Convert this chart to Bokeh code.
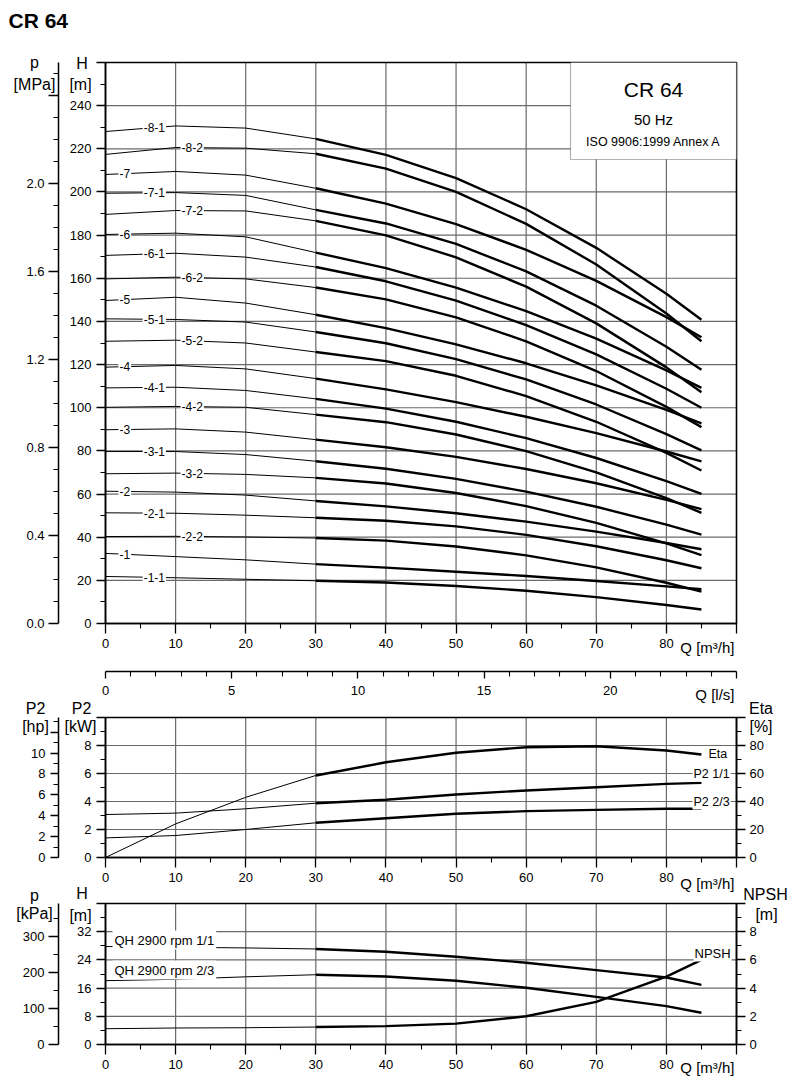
import numpy as np
from bokeh.plotting import figure
from bokeh.models import (Range1d, LinearAxis, FixedTicker, Label, BoxAnnotation,
                          PrintfTickFormatter)
from bokeh.embed import file_html
from bokeh.resources import INLINE

FONT = "Liberation Sans"

# ------------------------------------------------------------------ data
Q = [0, 10, 20, 30, 40, 50, 60, 70, 80, 85]          # flow [m3/h]

CURVE_LABELS = ["-8-1", "-8-2", "-7", "-7-1", "-7-2", "-6", "-6-1", "-6-2",
                "-5", "-5-1", "-5-2", "-4", "-4-1", "-4-2", "-3", "-3-1",
                "-3-2", "-2", "-2-1", "-2-2", "-1", "-1-1"]

H_8_1 = [228.0, 230.6, 229.6, 224.6, 217.2, 206.4, 192.0, 174.1, 152.8, 140.8]
H_8_2 = [217.4, 220.6, 220.3, 217.7, 210.8, 200.0, 185.2, 166.4, 143.7, 130.8]
H_7 = [208.1, 209.5, 207.8, 201.7, 194.6, 185.1, 173.2, 158.8, 142.0, 132.7]
H_7_1 = [199.4, 199.7, 198.4, 191.7, 185.4, 175.9, 163.2, 147.3, 128.3, 117.6]
H_7_2 = [189.6, 191.4, 191.2, 186.6, 179.9, 169.7, 156.1, 139.1, 118.7, 107.2]
H_6 = [180.3, 180.9, 179.2, 171.9, 164.7, 155.7, 144.8, 132.0, 117.3, 109.2]
H_6_1 = [170.6, 171.6, 169.8, 165.2, 158.6, 149.6, 138.3, 124.7, 108.8, 100.0]
H_6_2 = [159.7, 160.5, 159.7, 155.7, 150.2, 141.9, 130.8, 117.0, 100.4, 91.0]
H_5 = [149.7, 151.2, 148.5, 143.1, 136.9, 129.4, 120.6, 110.4, 99.0, 92.8]
H_5_1 = [141.2, 140.9, 139.7, 135.1, 129.9, 122.5, 113.1, 101.5, 87.8, 80.2]
H_5_2 = [130.8, 131.3, 130.0, 125.8, 121.6, 114.8, 105.4, 93.5, 79.1, 70.9]
H_4 = [118.8, 119.6, 118.0, 113.5, 108.5, 102.6, 95.8, 88.2, 79.7, 75.1]
H_4_1 = [109.2, 109.5, 108.0, 104.1, 99.6, 93.5, 85.9, 76.7, 66.0, 60.1]
H_4_2 = [100.2, 100.6, 100.2, 96.8, 93.3, 87.6, 79.9, 70.0, 58.1, 51.3]
H_3 = [89.8, 90.2, 88.7, 85.2, 81.7, 77.2, 71.6, 65.0, 57.3, 53.0]
H_3_1 = [79.7, 79.7, 78.3, 75.2, 71.7, 67.0, 61.1, 54.1, 45.8, 41.2]
H_3_2 = [69.4, 69.7, 69.1, 67.5, 64.9, 60.5, 54.4, 46.6, 37.1, 31.7]
H_2 = [61.3, 60.9, 59.5, 56.8, 54.3, 51.1, 47.2, 42.6, 37.3, 34.4]
H_2_1 = [51.3, 51.1, 50.2, 49.0, 47.6, 45.0, 41.1, 35.8, 29.3, 25.6]
H_2_2 = [40.3, 40.4, 40.1, 39.6, 38.4, 35.7, 31.6, 26.0, 18.9, 14.8]
H_1 = [32.5, 31.0, 29.5, 27.5, 25.9, 24.0, 22.0, 19.7, 17.2, 15.9]
H_1_1 = [21.8, 21.2, 20.5, 19.8, 19.0, 17.4, 15.2, 12.2, 8.6, 6.5]

CURVES = [H_8_1, H_8_2, H_7, H_7_1, H_7_2, H_6, H_6_1, H_6_2, H_5, H_5_1,
          H_5_2, H_4, H_4_1, H_4_2, H_3, H_3_1, H_3_2, H_2, H_2_1, H_2_2,
          H_1, H_1_1]

ETA = [0.0, 24.0, 43.0, 58.6, 68.0, 74.8, 78.8, 79.5, 76.4, 73.6]          # %
P2_FULL = [3.07, 3.17, 3.48, 3.88, 4.12, 4.50, 4.79, 5.02, 5.26, 5.33]     # kW
P2_TWO_THIRDS = [1.40, 1.57, 2.00, 2.48, 2.80, 3.12, 3.31, 3.40, 3.48, 3.48]

QH_FULL = [27.8, 27.6, 27.4, 27.1, 26.3, 24.9, 23.2, 21.1, 19.0, 16.9]     # m
QH_TWO_THIRDS = [18.1, 18.5, 19.2, 19.8, 19.3, 18.1, 16.1, 13.5, 10.9, 9.0]
NPSH = [1.12, 1.17, 1.19, 1.24, 1.30, 1.48, 2.00, 3.02, 4.81, 6.00]        # m

# tick sets
Q_MAX = 90
Q_TICKS = [0, 10, 20, 30, 40, 50, 60, 70, 80, 90]
Q_MINOR = [5, 15, 25, 35, 45, 55, 65, 75, 85]
LS_MAX = 25
LS_TICKS = [0, 5, 10, 15, 20, 25]
LS_MINOR = [v for v in range(1, 25) if v % 5]
H_TOP_MAX = 260
H_TOP_TICKS = list(range(0, 261, 20))
H_TOP_MINOR = list(range(10, 260, 20))
MPA_TICKS = [0.0, 0.4, 0.8, 1.2, 1.6, 2.0, 2.4]
MPA_MINOR = [0.1, 0.2, 0.3, 0.5, 0.6, 0.7, 0.9, 1.0, 1.1, 1.3, 1.4, 1.5,
             1.7, 1.8, 1.9, 2.1, 2.2, 2.3, 2.5]
KW_MAX = 10
KW_TICKS = [0, 2, 4, 6, 8, 10]
KW_MINOR = [1, 3, 5, 7, 9]
HP_TICKS = [0, 2, 4, 6, 8, 10, 12]
HP_MINOR = [1, 3, 5, 7, 9, 11, 13]
ETA_MAX = 100
ETA_TICKS = [0, 20, 40, 60, 80, 100]
ETA_MINOR = [10, 30, 50, 70, 90]
H_BOT_MAX = 40
H_BOT_TICKS = [0, 8, 16, 24, 32, 40]
H_BOT_MINOR = [4, 12, 20, 28, 36]
KPA_TICKS = [0, 100, 200, 300]
KPA_MINOR = [50, 150, 250, 350]
NPSH_MAX = 10
NPSH_TICKS = [0, 2, 4, 6, 8, 10]
NPSH_MINOR = [1, 3, 5, 7, 9]

M_PER_MPA = 101.97
KPA_PER_M = 9.80665
KW_PER_HP = 0.7457
LS_PER_M3H = 1 / 3.6

# ------------------------------------------------------------------ layout (pixels)
W, HFIG = 790, 1080
QX0, QX1 = 105, 736                  # pixel x of Q=0 and Q=90
TOP_PY = (623, 62)                   # pixel y of H=0 and H=260
MID_PY = (857, 717)                  # pixel y of 0 and 10 kW
BOT_PY = (1044, 903)                 # pixel y of 0 and 40 m
OUTER_AXIS_PX = 58
LS_AXIS_PY = 671
GRID_COLOR = "#6a6a6a"

SX = (QX1 - QX0) / Q_MAX


def y_range(v_max, py0, py1):
    s = (py0 - py1) / v_max
    return Range1d(start=-(HFIG - py0) / s, end=py0 / s)


x_rng = Range1d(start=-QX0 / SX, end=(W - QX0) / SX)
p = figure(width=W, height=HFIG, x_range=x_rng,
           y_range=y_range(H_TOP_MAX, *TOP_PY),
           x_axis_type=None, y_axis_type=None, min_border=0,
           output_backend="svg", toolbar_location=None)
p.outline_line_color = None
p.background_fill_color = "white"
p.border_fill_color = "white"
p.extra_y_ranges = {
    "mpa": y_range(H_TOP_MAX / M_PER_MPA, *TOP_PY),
    "kw": y_range(KW_MAX, *MID_PY),
    "hp": y_range(KW_MAX / KW_PER_HP, *MID_PY),
    "eta": y_range(ETA_MAX, *MID_PY),
    "h3": y_range(H_BOT_MAX, *BOT_PY),
    "kpa": y_range(H_BOT_MAX * KPA_PER_M, *BOT_PY),
    "npsh": y_range(NPSH_MAX, *BOT_PY),
}
p.extra_x_ranges = {"ls": Range1d(start=x_rng.start * LS_PER_M3H,
                                  end=x_rng.end * LS_PER_M3H)}


def rng(name):
    return p.y_range if name == "default" else p.extra_y_ranges[name]


def px_x(px):
    return (px - QX0) / SX


def px_y(py, name="default"):
    r = rng(name)
    return r.end - py * (r.end - r.start) / HFIG


q = np.array(Q, dtype=float)


# ------------------------------------------------------------------ helpers
def add_axis(side, fixed, bounds, ticks, minor, hide=(), xname="default",
             yname="default", tick_out=9, minor_out=5, standoff=5, fmt=None):
    ax = LinearAxis(fixed_location=fixed, bounds=bounds,
                    x_range_name=xname, y_range_name=yname)
    ax.ticker = FixedTicker(ticks=ticks, minor_ticks=minor)
    if hide:
        ax.major_label_overrides = {h: "" for h in hide}
    ax.major_tick_in = 0
    ax.major_tick_out = tick_out
    ax.minor_tick_in = 0
    ax.minor_tick_out = minor_out
    ax.major_label_standoff = standoff
    ax.major_label_text_font = FONT
    ax.major_label_text_font_size = "13px"
    ax.major_label_text_color = "black"
    ax.axis_line_color = "black"
    ax.axis_line_width = 1.5
    ax.major_tick_line_color = "black"
    ax.major_tick_line_width = 1.3
    ax.minor_tick_line_color = "black"
    ax.minor_tick_line_width = 1.1
    if fmt is not None:
        ax.formatter = fmt
    p.add_layout(ax, side)


def panel_grid(y_ticks, y_max, yname):
    xs = [v for v in Q_TICKS if 0 < v < Q_MAX]
    ys = [v for v in y_ticks if 0 < v < y_max]
    p.segment(x0=xs, y0=[0] * len(xs), x1=xs, y1=[y_max] * len(xs),
              line_color=GRID_COLOR, line_width=1.2, y_range_name=yname)
    p.segment(x0=[0] * len(ys), y0=ys, x1=[Q_MAX] * len(ys), y1=ys,
              line_color=GRID_COLOR, line_width=1.2, y_range_name=yname)


def panel_frame(y_max, yname):
    p.quad(left=[0], right=[Q_MAX], bottom=[0], top=[y_max], fill_color=None,
           line_color="black", line_width=1.6, y_range_name=yname)


def split_line(ys, yname="default"):
    ys = np.array(ys, dtype=float)
    thin = q <= 30
    thick = q >= 30
    p.line(q[thin], ys[thin], line_color="black", line_width=1.0,
           line_join="round", y_range_name=yname)
    p.line(q[thick], ys[thick], line_color="black", line_width=2.4,
           line_join="round", y_range_name=yname)


def text(x, y, s, size="13px", align="left", bold=False, bg=False,
         yname="default", pad=1):
    lab = Label(x=x, y=y, text=s, text_font=FONT, text_font_size=size,
                text_align=align, text_baseline="middle", text_color="black",
                y_range_name=yname)
    if bold:
        lab.text_font_style = "bold"
    if bg:
        lab.background_fill_color = "white"
        lab.background_fill_alpha = 1.0
        lab.padding = pad
    p.add_layout(lab)


def ptext(px, py, s, yname="default", **kw):
    text(px_x(px), px_y(py, yname), s, yname=yname, **kw)


# ------------------------------------------------------------------ grids
panel_grid(H_TOP_TICKS, H_TOP_MAX, "default")
panel_grid(KW_TICKS, KW_MAX, "kw")
panel_grid(H_BOT_TICKS, H_BOT_MAX, "h3")

# ------------------------------------------------------------------ curves
for hs in CURVES:
    split_line(hs)
split_line(ETA, "eta")
split_line(P2_FULL, "kw")
split_line(P2_TWO_THIRDS, "kw")
split_line(QH_FULL, "h3")
split_line(QH_TWO_THIRDS, "h3")
split_line(NPSH, "npsh")

panel_frame(H_TOP_MAX, "default")
panel_frame(KW_MAX, "kw")
panel_frame(H_BOT_MAX, "h3")

# ------------------------------------------------------------------ axes
# top panel
add_axis("left", 0, (0, H_TOP_MAX), H_TOP_TICKS, H_TOP_MINOR, hide=(260,))
add_axis("left", px_x(OUTER_AXIS_PX), (0, H_TOP_MAX / M_PER_MPA), MPA_TICKS,
         MPA_MINOR, hide=(2.4,), yname="mpa", tick_out=10, standoff=4,
         fmt=PrintfTickFormatter(format="%.1f"))
add_axis("below", 0, (0, Q_MAX), Q_TICKS, Q_MINOR, hide=(90,),
         tick_out=10, standoff=5)
add_axis("below", px_y(LS_AXIS_PY), (0, LS_MAX), LS_TICKS, LS_MINOR,
         hide=(25,), xname="ls", tick_out=7, minor_out=5, standoff=7)
# middle panel
add_axis("left", 0, (0, KW_MAX), KW_TICKS, KW_MINOR, hide=(10,), yname="kw")
add_axis("left", px_x(OUTER_AXIS_PX), (0, KW_MAX / KW_PER_HP), HP_TICKS,
         HP_MINOR, hide=(12,), yname="hp", tick_out=8, standoff=5)
add_axis("right", Q_MAX, (0, ETA_MAX), ETA_TICKS, ETA_MINOR, hide=(100,),
         yname="eta", tick_out=9, standoff=4)
add_axis("below", 0, (0, Q_MAX), Q_TICKS, Q_MINOR, hide=(90,), yname="kw",
         tick_out=10, standoff=5)
# bottom panel
add_axis("left", 0, (0, H_BOT_MAX), H_BOT_TICKS, H_BOT_MINOR, hide=(40,),
         yname="h3")
add_axis("left", px_x(OUTER_AXIS_PX), (0, H_BOT_MAX * KPA_PER_M), KPA_TICKS,
         KPA_MINOR, yname="kpa", tick_out=10, standoff=4)
add_axis("right", Q_MAX, (0, NPSH_MAX), NPSH_TICKS, NPSH_MINOR, hide=(10,),
         yname="npsh", tick_out=9, standoff=4)
add_axis("below", 0, (0, Q_MAX), Q_TICKS, Q_MINOR, hide=(90,), yname="h3",
         tick_out=10, standoff=5)

# ------------------------------------------------------------------ labels
for name, hs in zip(CURVE_LABELS, CURVES):
    parts = name.split("-")
    if len(parts) == 2:
        q_left = 1.85
    elif parts[2] == "1":
        q_left = 5.3
    else:
        q_left = 10.7
    text(q_left, float(np.interp(q_left + 1.2, Q, hs)), name, size="12px",
         bg=True, pad=1)

box = BoxAnnotation(left=px_x(570), right=Q_MAX, bottom=px_y(159),
                    top=H_TOP_MAX, fill_color="white", fill_alpha=1.0,
                    line_color="black", line_width=1.2)
p.add_layout(box)
ptext(653, 89, "CR 64", size="21px", align="center")
ptext(653, 119, "50 Hz", size="15px", align="center")
ptext(653, 141, "ISO 9906:1999 Annex A", size="12.5px", align="center")

ptext(8, 20, "CR 64", size="21px", bold=True)
ptext(34, 62, "p", size="16px", align="center")
ptext(34, 83.5, "[MPa]", size="16px", align="center")
ptext(81.5, 63, "H", size="16px", align="center")
ptext(80, 84, "[m]", size="16px", align="center")
ptext(734, 647, "Q [m\u00b3/h]", size="15px", align="right")
ptext(734, 694, "Q [l/s]", size="15px", align="right")

ptext(35, 707.5, "P2", size="16px", align="center")
ptext(35, 726, "[hp]", size="16px", align="center")
ptext(81, 707.5, "P2", size="16px", align="center")
ptext(80, 726, "[kW]", size="16px", align="center")
ptext(760.5, 708, "Eta", size="16px", align="center")
ptext(760.5, 726, "[%]", size="16px", align="center")
ptext(708, 753, "Eta", size="12.5px")
ptext(692, 773, "P2 1/1", size="12.5px", bg=True, pad=1)
ptext(692, 801, "P2 2/3", size="12.5px", bg=True, pad=1)
ptext(734, 883, "Q [m\u00b3/h]", size="15px", align="right")

ptext(34, 895, "p", size="16px", align="center")
ptext(34, 913, "[kPa]", size="16px", align="center")
ptext(81.5, 893, "H", size="16px", align="center")
ptext(80, 915, "[m]", size="16px", align="center")
ptext(765, 894, "NPSH", size="16px", align="center")
ptext(766, 914, "[m]", size="16px", align="center")
ptext(112, 939.5, "QH 2900 rpm 1/1", size="13px", bg=True, pad=2)
ptext(112, 969.5, "QH 2900 rpm 2/3", size="13px", bg=True, pad=2)
ptext(693, 952.5, "NPSH", size="13px", bg=True, pad=1)
ptext(734, 1067, "Q [m\u00b3/h]", size="15px", align="right")

open("out.html", "w").write(file_html(p, INLINE))
